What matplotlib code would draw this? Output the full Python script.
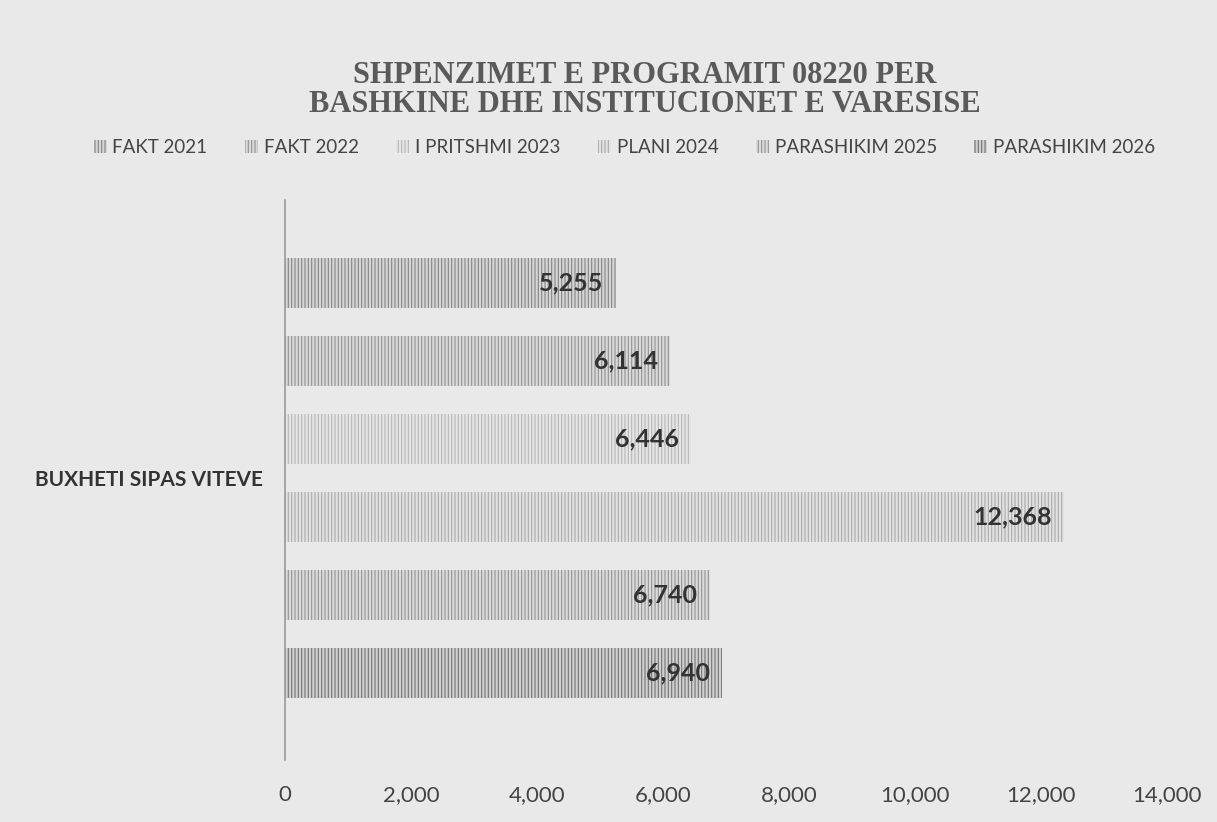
import matplotlib.pyplot as plt
import numpy as np

# data
series = ["FAKT 2021", "FAKT 2022", "I PRITSHMI 2023", "PLANI 2024", "PARASHIKIM 2025", "PARASHIKIM 2026"]
values = [5255, 6114, 6446, 12368, 6740, 6940]
category = "BUXHETI SIPAS VITEVE"
xticks = [0, 2000, 4000, 6000, 8000, 10000, 12000, 14000]

# grey shades of the scan (fill, hatch lines)
fills = ["#d6d6d6", "#dadada", "#e6e6e6", "#e2e2e2", "#dbdbdb", "#d0d0d0"]
lines = ["#858585", "#929292", "#b6b6b6", "#aaaaaa", "#949494", "#737373"]

plt.rcParams["font.family"] = ["Lato", "DejaVu Sans"]
plt.rcParams["hatch.linewidth"] = 0.8

fig = plt.figure(figsize=(12.17, 8.22), dpi=100, facecolor="#e9e9e9")
ax = fig.add_axes([0.234, 0.0754, 0.725, 0.681])
ax.set_facecolor("none")

n = len(series)
pos = (n - 1) / 2 - np.arange(n)   # first series on top
for i in range(n):
    b = ax.barh(pos[i], values[i], height=0.64, color=fills[i], edgecolor=lines[i],
                linewidth=0, hatch="|||||", label=series[i])
    labs = ax.bar_label(b, labels=[f"{values[i]:,}"], padding=-9, fontsize=18,
                        fontweight="bold", color="#333333")
    for t in labs:
        t.set_ha("right")

ax.set_xlim(0, 14000)
ax.set_ylim(-3.62, 3.56)
ax.set_xticks(xticks)
ax.set_xticklabels([f"{v:,}" for v in xticks], fontsize=16, color="#444444")
ax.tick_params(axis="x", length=0, pad=18)
ax.set_yticks([0])
ax.set_yticklabels([category], fontsize=15, fontweight="bold", color="#333333")
ax.tick_params(axis="y", length=0, pad=16)

for s in ["top", "right", "bottom"]:
    ax.spines[s].set_visible(False)
ax.spines["left"].set_color("#9a9a9a")
ax.spines["left"].set_linewidth(1.2)

fig.text(0.53, 0.89, "SHPENZIMET E PROGRAMIT 08220 PER\nBASHKINE DHE INSTITUCIONET E VARESISE",
         ha="center", va="center", fontsize=22, fontweight="bold",
         family=["Liberation Serif", "DejaVu Serif"], color="#5a5a5a", linespacing=1.0)

fig.legend(loc="center", bbox_to_anchor=(0.513, 0.82), ncol=6, frameon=False,
           fontsize=13.5, labelcolor="#444444", handlelength=0.7, handleheight=0.7,
           handletextpad=0.3, columnspacing=2.0)

fig.savefig("out.png", dpi=100, facecolor=fig.get_facecolor())
